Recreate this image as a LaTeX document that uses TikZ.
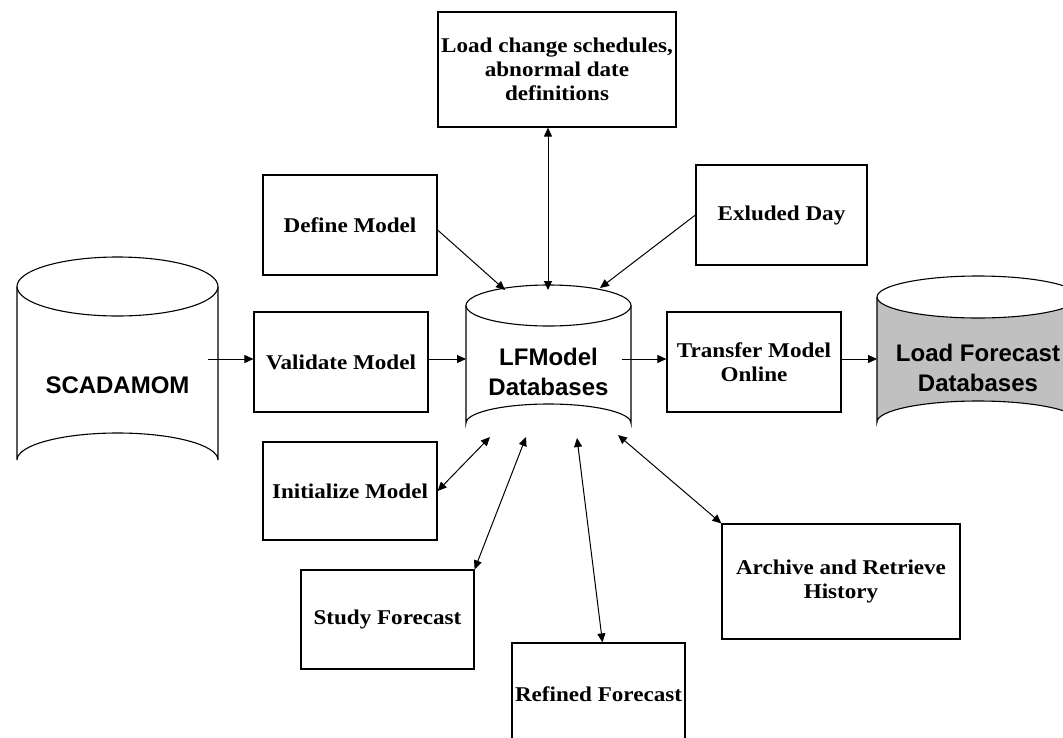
\documentclass[tikz,border=0pt]{standalone}
\usepackage{fontspec}
\setmainfont{Liberation Serif}[FakeStretch=1.1]
\newfontfamily\cylfont{Liberation Sans}
\usetikzlibrary{arrows.meta}
\begin{document}
\begin{tikzpicture}[x=1pt,y=-1pt,
  box/.style={draw=black,line width=1.2pt,fill=white,inner sep=0pt,align=center,
    font=\fontsize{21}{24}\selectfont\bfseries},
  cyl/.style={draw=black,line width=1.1pt},
  cyltext/.style={font=\cylfont\fontsize{24}{30}\selectfont\bfseries,align=center,inner sep=0pt},
  conn/.style={line width=1pt,-{Triangle[length=9pt,width=8pt]}},
  dconn/.style={line width=1pt,{Triangle[length=9pt,width=8pt]}-{Triangle[length=9pt,width=8pt]}}
]
\useasboundingbox (0,0) rectangle (1063,737);
\clip (0,0) rectangle (1063,737);
\fill[white] (0,0) rectangle (1063,737);

% ---- cylinders ----
% SCADAMOM
\draw[cyl,fill=white] (17,286.5) -- (17,460) arc[start angle=180,end angle=360,x radius=100.5,y radius=27] -- (218,286.5);
\draw[cyl,fill=white] (117.5,286.5) ellipse[x radius=100.5,y radius=29.5];
\node[cyltext] (sc) at (117.5,385) {SCADAMOM};
% LFModel
\draw[cyl,fill=white] (466,305.5) -- (466,423) arc[start angle=180,end angle=360,x radius=82.5,y radius=19] -- (631,305.5);
\draw[cyl,fill=white] (548.5,305.5) ellipse[x radius=82.5,y radius=20.5];
\node[cyltext] (lf) at (548.5,372) {LFModel\\Databases};
% Load Forecast
\draw[cyl,fill={rgb,255:red,192;green,192;blue,192}] (877,297) -- (877,422) arc[start angle=180,end angle=360,x radius=101,y radius=21] -- (1079,297);
\draw[cyl,fill=white] (978,297) ellipse[x radius=101,y radius=21];
\node[cyltext] (ld) at (978,368) {Load Forecast\\Databases};

% ---- boxes ----
\node[box,minimum width=238,minimum height=115] (lc) at (557,69.5) {Load change schedules,\\abnormal date\\definitions};
\node[box,minimum width=174,minimum height=100] (dm) at (350,225) {Define Model};
\node[box,minimum width=171,minimum height=100] (ex) at (781.5,215) {Exluded Day};
\node[box,minimum width=174,minimum height=100] (vm) at (341,362) {Validate Model};
\node[box,minimum width=174,minimum height=100] (tm) at (754,362) {Transfer Model\\Online};
\node[box,minimum width=174,minimum height=98] (im) at (350,491) {Initialize Model};
\node[box,minimum width=173,minimum height=99] (sf) at (387.5,619.5) {Study Forecast};
\node[box,minimum width=173,minimum height=102] (rf) at (598.5,694) {Refined Forecast};
\node[box,minimum width=238,minimum height=115] (ar) at (841,581.5) {Archive and Retrieve\\History};

% ---- attachment points ----
\coordinate (lcT) at (548,290);
\coordinate (dmT) at (505,290);
\coordinate (exT) at (600,288);
\coordinate (scR) at (208,359);
\coordinate (lfL) at (466,359);
\coordinate (lfR) at (622,359);
\coordinate (ldL) at (877,359);
\coordinate (imB) at (490,437);
\coordinate (sfB) at (526,437);
\coordinate (rfB) at (577,438);
\coordinate (arB) at (618,435);
\coordinate (dmE) at (437,230);

% ---- connectors ----
\draw[dconn] (lcT |- lc.south) -- (lcT);
\draw[conn] (dm.east |- dmE) -- (dmT);
\draw[conn] (ex.west) -- (exT);
\draw[conn] (scR) -- (scR -| vm.west);
\draw[conn] (vm.east |- lfL) -- (lfL);
\draw[conn] (lfR) -- (lfR -| tm.west);
\draw[conn] (tm.east |- ldL) -- (ldL);
\draw[dconn] (im.east) -- (imB);
\draw[dconn] (sf.north east) -- (sfB);
\draw[dconn] (rf.north) ++(4,0) coordinate (rfN) -- (rfB);
\draw[dconn] (ar.north west) -- (arB);
\end{tikzpicture}
\end{document}
